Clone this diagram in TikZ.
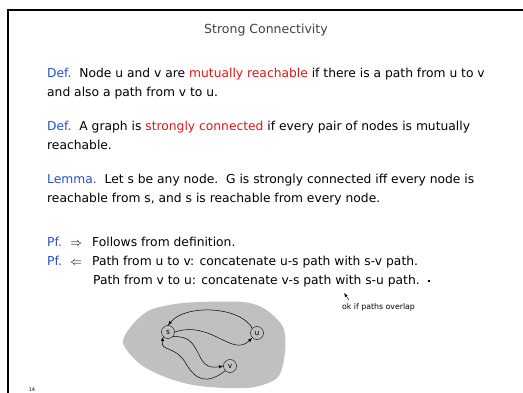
\documentclass[tikz,border=0pt]{standalone}
\usepackage{fontspec}
\setmainfont{DejaVu Sans}
\usetikzlibrary{arrows,calc}
\definecolor{defblue}{RGB}{40,80,200}
\definecolor{hotred}{RGB}{230,20,20}
\definecolor{blobgray}{RGB}{192,192,192}
\newcommand{\bl}[1]{\textcolor{defblue}{#1}}
\newcommand{\rd}[1]{\textcolor{hotred}{#1}}

\begin{document}
\begin{tikzpicture}[x=1pt,y=-1pt,
    line/.style={anchor=base west,inner sep=0pt,font=\fontsize{12.3}{15}\selectfont},
    vert/.style={circle,draw,inner sep=0pt,minimum size=13pt,font=\fontsize{7.5}{8}\selectfont},
    arc/.style={->,>=latex,line width=0.5pt}]
  \useasboundingbox (0,0) rectangle (523,393);
  % slide frame
  \draw[line width=2.4pt] (7.8,393) -- (7.8,10.3) -- (523,10.3);
  \node[anchor=base,inner sep=0pt,text=black!75,font=\fontsize{12.5}{15}\selectfont] (title) at (266,34) {Strong Connectivity};

  \node[line] (def1) at (47,78) {\bl{Def.}\ \ Node u and v are \rd{mutually reachable} if there is a path from u to v};
  \node[line] (def1b) at (47,97) {and also a path from v to u.};
  \node[line] (def2) at (47,131) {\bl{Def.}\ \ A graph is \rd{strongly connected} if every pair of nodes is mutually};
  \node[line] (def2b) at (47,150) {reachable.};
  \node[line] (lem) at (47,184) {\bl{Lemma.}\ \ Let s be any node.\ \ G is strongly connected iff every node is};
  \node[line] (lemb) at (47,203) {reachable from s, and s is reachable from every node.};
  \node[line] (pf1) at (47,247) {\makebox[23pt][l]{\bl{Pf.}}\makebox[22pt][l]{$\Rightarrow$}Follows from definition.};
  \node[line] (pf2) at (47,266) {\makebox[23pt][l]{\bl{Pf.}}\makebox[22pt][l]{$\Leftarrow$}Path from u to v: concatenate u-s path with s-v path.};
  \node[line] (pf2b) at (93,285) {Path from v to u: concatenate v-s path with s-u path.};
  \node[fill,inner sep=0pt,minimum size=2.5pt] (qed) at (429,281) {};

  % remark
  \node[anchor=base west,inner sep=0pt,font=\fontsize{7.8}{9}\selectfont] (note) at (342,309) {ok if paths overlap};
  \coordinate (tail) at (349,300);
  \coordinate (tip) at (344,293);
  \draw[->,>=latex,line width=0.4pt] (tail) -- (tip);

  % the graph
  \fill[blobgray] plot[smooth cycle] coordinates {(123,343) (133,324) (150,310) (175,304) (200,302) (243,302) (265,309) (283,327) (285,352) (278,377) (255,387) (225,388) (193,385) (165,377) (140,364)};
  \node[vert] (s) at (168,332) {s};
  \node[vert] (u) at (257,333) {u};
  \node[vert] (v) at (230,366) {v};
  \draw[arc] (u.north west) .. controls (240,306) and (185,304) .. (s.north);
  \draw[arc] (s.east) .. controls (212,320) and (232,358) .. (u.south west);
  \draw[arc] (s.south east) .. controls (205,334) and (192,372) .. (v.west);
  \draw[arc] (v.south west) .. controls (208,384) and (196,382) .. (185,362) .. controls (174,345) and (160,352) .. (s.south west);

  \node[inner sep=0pt,font=\fontsize{5}{6}\selectfont] (pageno) at (32,390) {14};
\end{tikzpicture}
\end{document}
